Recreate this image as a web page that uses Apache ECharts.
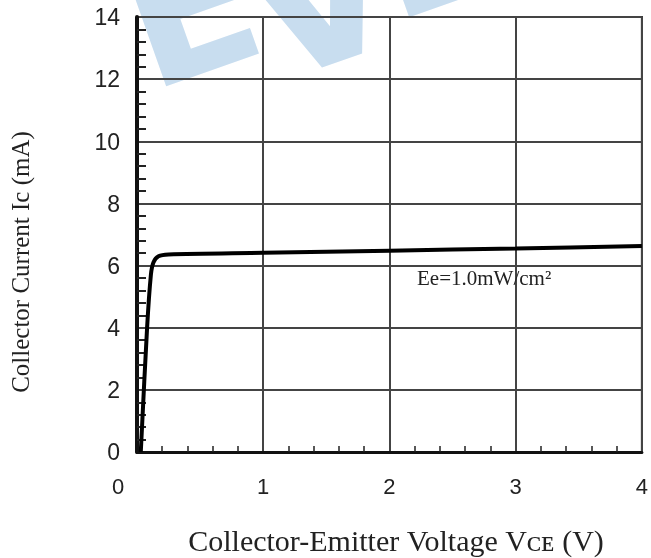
<!DOCTYPE html>
<html>
<head>
<meta charset="utf-8">
<script src="https://cdn.jsdelivr.net/npm/echarts@6/dist/echarts.min.js"></script>
<style>html,body{margin:0;padding:0;background:#fff}#c{width:651px;height:558px}</style>
</head>
<body>
<div id="c"></div>
<script>
var vce = [0.03, 0.08, 0.11, 0.13, 0.17, 0.25, 1, 2, 3, 4];
var ic = [0, 4.0, 5.7, 6.1, 6.3, 6.36, 6.41, 6.48, 6.55, 6.63];
var xTicks = [0, 1, 2, 3, 4];
var yTicks = [0, 2, 4, 6, 8, 10, 12, 14];
var label = 'Ee=1.0mW/cm²';
var xTitle = 'Collector-Emitter Voltage V\u1D04\u1D07 (V)';
var yTitle = 'Collector Current Ic (mA)';

function wm(ch, x, y) {
  return { type: 'text', z: -10, x: x, y: y, rotation: 0.34,
    style: { text: ch, font: 'bold 190px "DejaVu Sans"', fill: '#c8ddef', align: 'left', verticalAlign: 'bottom' } };
}

var chart = echarts.init(document.getElementById('c'));
chart.setOption({
  animation: false,
  graphic: [wm('E', 165, 135), wm('V', 288, 128), wm('E', 408, 66), {
    type: 'text', x: 396, y: 543,
    style: { text: xTitle, font: '30px "Liberation Serif"', fill: '#222', align: 'center', verticalAlign: 'middle' }
  }, {
    type: 'text', x: 22, y: 262, rotation: Math.PI / 2,
    style: { text: yTitle, font: '25px "Liberation Serif"', fill: '#222', align: 'center', verticalAlign: 'middle' }
  }],
  grid: { left: 137, top: 17, right: 4, bottom: 106, show: true, borderColor: '#222', borderWidth: 2, backgroundColor: 'transparent' },
  xAxis: {
    type: 'value', min: 0, max: 4, interval: 1,
    axisLine: { show: true, lineStyle: { color: '#111', width: 3 } },
    axisTick: { show: false, inside: true },
    minorTick: { show: true, splitNumber: 5, length: 6, lineStyle: { color: '#222', width: 1.5 } },
    axisLabel: { margin: 25, fontFamily: 'Liberation Sans', fontSize: 22, color: '#222',
      formatter: function (v) { return v === 0 ? '{z|0}' : (xTicks.indexOf(v) >= 0 ? String(v) : ''); },
      rich: { z: { fontFamily: 'Liberation Sans', fontSize: 22, color: '#222', padding: [0, 38, 0, 0] } } },
    splitLine: { show: true, lineStyle: { color: '#444', width: 2 } }
  },
  yAxis: {
    type: 'value', min: 0, max: 14, interval: 2,
    axisLine: { show: true, lineStyle: { color: '#111', width: 4 } },
    axisTick: { show: false, inside: true },
    minorTick: { show: true, splitNumber: 5, length: 9, lineStyle: { color: '#222', width: 2 } },
    axisLabel: { margin: 17, color: '#222',
      formatter: function (v) { return yTicks.indexOf(v) >= 0 ? '{a|' + v + '}' : ''; },
      rich: { a: { fontFamily: 'Liberation Sans', fontSize: 23, color: '#222', padding: [4, 0, 0, 0] } } },
    splitLine: { show: true, lineStyle: { color: '#444', width: 2 } }
  },
  series: [{
    type: 'line', smooth: 0.3, symbol: 'none',
    data: vce.map(function (v, i) { return [v, ic[i]]; }),
    lineStyle: { color: '#000', width: 4 },
    markPoint: {
      symbol: 'rect', symbolSize: 0,
      data: [{ coord: [2.75, 5.54], label: { show: true, formatter: label, fontFamily: 'Liberation Serif', fontSize: 21, color: '#222' } }]
    }
  }]
});
</script>
</body>
</html>
